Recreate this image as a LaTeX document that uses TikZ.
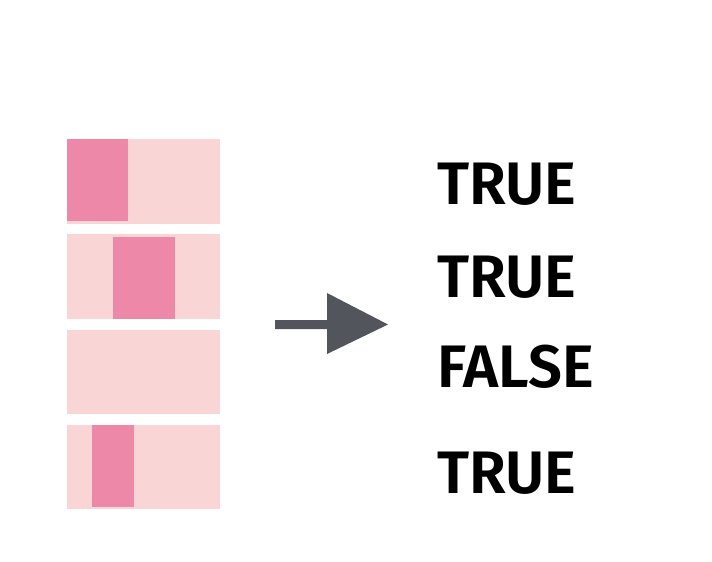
\documentclass[tikz,border=0pt]{standalone}
\usepackage{fontspec}
\setmainfont{Fira Sans}[BoldFont={Fira Sans SemiBold}]
\begin{document}
\begin{tikzpicture}[x=1pt,y=-1pt,
  bg/.style={fill=lightpink},
  hit/.style={fill=darkpink},
  lbl/.style={anchor=base west,inner sep=0pt,font=\fontsize{60}{60}\selectfont\bfseries}]
\definecolor{lightpink}{HTML}{F9D6D5}
\definecolor{darkpink}{HTML}{EE88A8}
\definecolor{arrowgray}{HTML}{53555C}
\useasboundingbox (0,0) rectangle (712,562);
\fill[white] (0,0) rectangle (712,562);
% row 1
\fill[bg] (67,139) rectangle (220,224);
\fill[hit] (67,139) rectangle (128,221);
% row 2
\fill[bg] (67,234) rectangle (220,319);
\fill[hit] (113,237) rectangle (175,319);
% row 3
\fill[bg] (67,330) rectangle (220,414);
% row 4
\fill[bg] (67,425) rectangle (220,509);
\fill[hit] (92,425) rectangle (134,507);
% arrow
\fill[arrowgray] (275,320) -- (327,320) -- (327,293) -- (388,324.5) -- (327,354) -- (327,329) -- (275,329) -- cycle;
% labels
\node[lbl] (t1) at (437,204) {TRUE};
\node[lbl] (t2) at (437,297) {TRUE};
\node[lbl] (t3) at (437,387) {FALSE};
\node[lbl] (t4) at (437,493) {TRUE};
\end{tikzpicture}
\end{document}
